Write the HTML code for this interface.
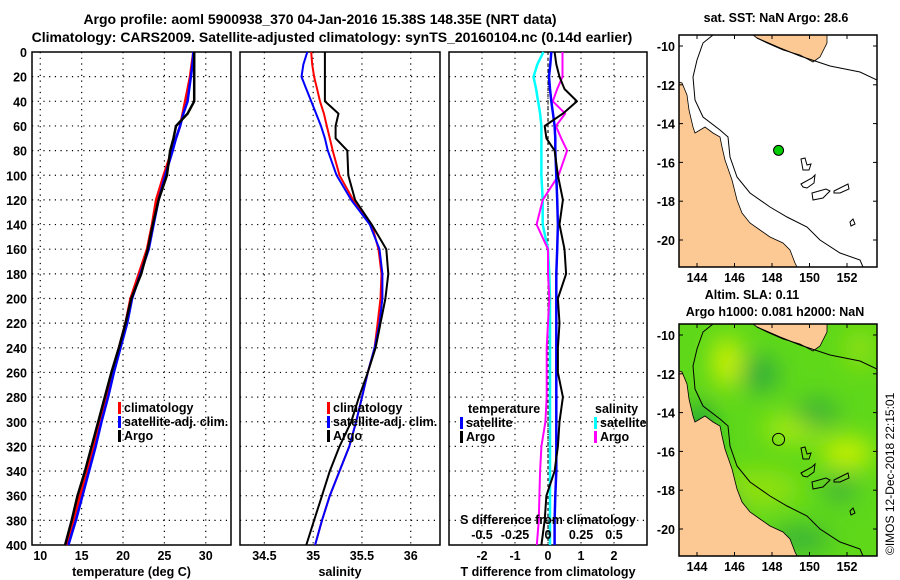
<!DOCTYPE html>
<html><head><meta charset="utf-8">
<style>
html,body{margin:0;padding:0;background:#fff;}
svg{display:block;font-family:"Liberation Sans",sans-serif;font-weight:bold;}
</style></head>
<body>
<svg id="chart" width="900" height="580" viewBox="0 0 900 580" xmlns="http://www.w3.org/2000/svg">
<defs>
<filter id="blur" x="-20%" y="-20%" width="140%" height="140%"><feGaussianBlur stdDeviation="12"/></filter>
<clipPath id="clip1"><rect x="679" y="35" width="198" height="232"/></clipPath>
<clipPath id="clip2"><rect x="679" y="324" width="198" height="233"/></clipPath>
</defs>
<text x="320" y="24" font-size="14" text-anchor="middle">Argo profile: aoml 5900938_370 04-Jan-2016 15.38S 148.35E (NRT data)</text>
<text x="332" y="42" font-size="14" text-anchor="middle">Climatology: CARS2009. Satellite-adjusted climatology: synTS_20160104.nc (0.14d earlier)</text>
<g id="panels"></g>
<g id="maps"></g>
</svg>
<script>
const depths=[0,10,20,30,40,50,60,70,80,100,120,140,160,180,200,220,240,260,280,300,320,340,360,380,400];
const tempClim=[28.5,28.3,28.1,27.8,27.5,27.2,26.9,26.4,25.9,24.9,24.0,23.5,22.9,21.9,20.9,20.3,19.5,18.7,18.0,17.1,16.5,15.7,14.8,14.0,13.2];
const tempSat=[28.5,28.4,28.2,28.0,27.8,27.3,26.9,26.4,26.0,25.1,24.3,23.7,23.1,22.1,21.1,20.5,19.7,18.9,18.2,17.4,16.7,15.9,15.1,14.3,13.4];
const tempArgo=[28.6,28.6,28.6,28.6,28.6,27.8,26.4,26.1,25.7,25.3,24.3,23.6,23.0,22.2,21.0,20.3,19.5,18.6,17.8,17.0,16.2,15.4,14.5,13.8,13.0];
const salClim=[34.98,34.99,35.01,35.04,35.07,35.11,35.14,35.17,35.20,35.27,35.41,35.60,35.67,35.70,35.69,35.66,35.63,35.56,35.50,35.44,35.37,35.27,35.17,35.09,35.02];
const salSat=[34.94,34.90,34.88,34.93,34.98,35.03,35.08,35.12,35.15,35.24,35.39,35.58,35.68,35.71,35.71,35.68,35.63,35.56,35.50,35.44,35.37,35.27,35.17,35.09,35.02];
const salArgo=[35.12,35.12,35.12,35.12,35.12,35.26,35.23,35.23,35.35,35.36,35.43,35.60,35.75,35.77,35.74,35.69,35.64,35.56,35.47,35.39,35.27,35.17,35.09,35.01,34.93];
const tDiffArgo=[0.2,0.25,0.35,0.5,0.88,0.45,-0.1,-0.05,0.2,0.3,0.45,0.35,0.5,0.55,0.3,0.35,0.3,0.3,0.45,0.35,0.3,0.2,-0.05,-0.1,-0.2];
const tDiffSat=[0.1,0.07,0.03,0.06,0.1,0.15,0.2,0.22,0.22,0.25,0.28,0.3,0.28,0.25,0.25,0.25,0.25,0.25,0.25,0.25,0.25,0.25,0.22,0.2,0.2];
const sDiffArgo=[0.11,0.11,0.11,0.07,0.036,0.13,0.06,0.1,0.145,0.08,-0.04,-0.086,0.0,0.0,0.01,0.0,-0.01,-0.01,-0.01,-0.02,-0.05,-0.06,-0.065,-0.07,-0.085];
const sDiffSat=[-0.035,-0.08,-0.11,-0.09,-0.075,-0.06,-0.05,-0.05,-0.05,-0.05,-0.04,-0.04,0.0,0.01,0.015,0.015,0.015,0.015,0.015,0.015,0.015,0.015,0.015,0.015,0.015];
const depthTicks=[0,20,40,60,80,100,120,140,160,180,200,220,240,260,280,300,320,340,360,380,400];
const tempTicks=[10,15,20,25,30];
const salTicks=[34.5,35,35.5,36];
const tdTicks=[-2,-1,0,1,2];
const sdTicks=[-0.5,-0.25,0,0.25,0.5];
const sdTickLabels=['-0.5','-0.25','0','0.25','0.5'];
const lonTicks=[144,146,148,150,152];
const latTicks=[-10,-12,-14,-16,-18,-20];
const argoLon=148.35, argoLat=-15.38;

const NS='http://www.w3.org/2000/svg';
function mk(tag,attrs,parent,text){const e=document.createElementNS(NS,tag);for(const k in attrs)e.setAttribute(k,attrs[k]);if(text!==undefined)e.textContent=text;parent.appendChild(e);return e;}
const panels=document.getElementById('panels');
const maps=document.getElementById('maps');
const yTop=52,yBot=545;
function yD(d){return yTop+(d/400)*(yBot-yTop);}
function makeX(x0,x1,v0,v1){return v=>x0+(v-v0)/(v1-v0)*(x1-x0);}
const px1=makeX(32,231,9,33.05);
const px2=makeX(240,440,34.25,36.3);
const px3=makeX(449,647,-3,3);
const px3s=v=>px3(v*4);

function panelFrame(name,x0,x1,xTicks,fx,labels,xTitle){
  const g=mk('g',{},panels);
  
  
  depthTicks.forEach(d=>{if(d>0&&d<400){const l=mk('line',{x1:x0,x2:x1,y1:yD(d),y2:yD(d),stroke:'#000','stroke-width':1.2,'stroke-dasharray':'1.2,4.5'},g);}});
  xTicks.forEach((v,i)=>{const x=fx(v);const l=mk('line',{x1:x,x2:x,y1:yTop,y2:yBot,stroke:'#000','stroke-width':1.2,'stroke-dasharray':'1.2,4.5'},g);
    const t=mk('text',{x:x,y:560,'font-size':12.5,'text-anchor':'middle'},g,labels[i]);});
  const r=mk('rect',{x:x0,y:yTop,width:x1-x0,height:yBot-yTop,fill:'none',stroke:'#000','stroke-width':1.5},g);
  
  const tt=mk('text',{x:(x0+x1)/2,y:576,'font-size':12.5,'text-anchor':'middle'},g,xTitle);
  
  return g;
}
function line(g,vals,fx,color,w,name){
  const pts=vals.map((v,i)=>fx(v).toFixed(1)+','+yD(depths[i]).toFixed(1)).join(' ');
  const p=mk('polyline',{points:pts,fill:'none',stroke:color,'stroke-width':w,'stroke-linejoin':'round'},g);
  
}
function legend(g,x,y,color,label){
  const r=mk('rect',{x:x,y:y-10,width:3,height:12,fill:color},g);
  
  const t=mk('text',{x:x+6,y:y,'font-size':12.5},g,label);
  
}
// panel 1
const g1=panelFrame('temperature-panel',32,231,tempTicks,px1,tempTicks.map(String),'temperature (deg C)');
depthTicks.forEach(d=>{const t=mk('text',{x:27,y:yD(d)+5,'font-size':12.5,'text-anchor':'end'},g1,String(d));});
line(g1,tempClim,px1,'#f00',2.5,'temperature-climatology-line');
line(g1,tempSat,px1,'#00f',2.5,'temperature-satellite-line');
line(g1,tempArgo,px1,'#000',2.5,'temperature-argo-line');
legend(g1,118,412,'#f00','climatology');legend(g1,118,426,'#00f','satellite-adj. clim.');legend(g1,118,440,'#000','Argo');
// panel 2
const g2=panelFrame('salinity-panel',240,440,salTicks,px2,['34.5','35','35.5','36'],'salinity');
line(g2,salClim,px2,'#f00',2,'salinity-climatology-line');
line(g2,salSat,px2,'#00f',2,'salinity-satellite-line');
line(g2,salArgo,px2,'#000',2,'salinity-argo-line');
legend(g2,327,412,'#f00','climatology');legend(g2,327,426,'#00f','satellite-adj. clim.');legend(g2,327,440,'#000','Argo');
// panel 3
const g3=panelFrame('difference-panel',449,647,tdTicks,px3,tdTicks.map(String),'T difference from climatology');
const zl=mk('line',{x1:px3(0),x2:px3(0),y1:yTop,y2:yBot,stroke:'#000','stroke-width':1,'stroke-dasharray':'3,3'},g3);

line(g3,sDiffSat,px3s,'#0ff',2.5,'salinity-diff-satellite-line');
line(g3,sDiffArgo,px3s,'#f0f',2,'salinity-diff-argo-line');
line(g3,tDiffSat,px3,'#00f',2.5,'temperature-diff-satellite-line');
line(g3,tDiffArgo,px3,'#000',2,'temperature-diff-argo-line');
[['temperature',468,413],['salinity',595,413]].forEach(a=>{const t=mk('text',{x:a[1],y:a[2],'font-size':12.5},g3,a[0]);});
legend(g3,460,427,'#00f','satellite');legend(g3,460,441,'#000','Argo');
legend(g3,594,427,'#0ff','satellite');legend(g3,594,441,'#f0f','Argo');
const st=mk('text',{x:548,y:524,'font-size':12.5,'text-anchor':'middle'},g3,'S difference from climatology');

sdTicks.forEach((v,i)=>{const t=mk('text',{x:px3s(v),y:539,'font-size':12.5,'text-anchor':'middle'},g3,sdTickLabels[i]);});

// maps
const mLon=v=>697+(v-144)*18.75;
const landAus="M679,82 L682,83 L687,95 L689,110 L693,127 L695,133 L700,130 L705,127 L713,133 L720,137 L722,147 L725,160 L732,180 L737,200 L742,213 L750,223 L760,230 L770,237 L783,243 L790,250 L795,263 L797,267 L679,267 Z";
const landPNG="M753,35 L827,35 L827,43 L820,57 L813,62 L800,55 L783,50 L767,43 L757,38 Z";
const contours=["M713,35 L703,43 L697,60 L693,77 L695,100 L703,117 L720,130 L728,137 L730,157 L737,177 L750,193 L770,207 L787,217 L807,227 L820,240 L840,253 L860,260 L863,267",
"M757,38 L780,48 L800,56 L830,66 L860,72 L877,80",
"M801,159 L805,158 L807,165 L811,164 L809,170 L803,170 Z",
"M801,184 L812,178 L815,175 L814,183 L807,188 L803,187 Z",
"M812,193 L826,189 L830,191 L823,198 L813,200 Z",
"M834,191 L848,184 L849,189 L840,193 L834,193 Z",
"M850,222 L853,219 L855,224 L851,226 Z"];
function drawMap(off,clipId,name,title1,title2,heat){
  const g=mk('g',{},maps);
  
  const inner=mk('g',{'clip-path':'url(#'+clipId+')'},g);
  const tg=mk('g',{transform:'translate(0,'+off+')'},inner);
  if(heat){
    mk('rect',{x:679,y:35,width:198,height:232,fill:'#5fd81a'},tg);
    const hb=mk('g',{filter:'url(#blur)'},tg);
    [[727,73,14,25,'#d4f200'],[847,164,26,16,'#c8f000'],[793,140,30,14,'#a8ea08'],[760,85,18,18,'#2faa3c'],[817,124,22,14,'#38b038'],[840,200,16,14,'#3cb23a'],[760,200,40,20,'#8ee010'],[700,170,14,60,'#199c3a'],[860,60,15,20,'#8ee010'],[800,250,30,12,'#36ae3a'],[720,230,20,30,'#2aa83c']].forEach(b=>{mk('ellipse',{cx:b[0],cy:b[1],rx:b[2],ry:b[3],fill:b[4]},hb);});
  }
  const la=mk('path',{d:landAus,fill:'#fcc994',stroke:'#000','stroke-width':0.8},tg);
  
  const lp=mk('path',{d:landPNG,fill:'#fcc994',stroke:'#000','stroke-width':0.8},tg);
  
  contours.forEach(c=>{const p=mk('path',{d:c,fill:'none',stroke:'#000','stroke-width':1},tg);});
  const cx=mLon(argoLon), cy=46+(-10-argoLat)*19.4;
  const dot=mk('circle',{cx:cx,cy:cy,r:heat?6:5,fill:heat?'none':'#00cc00',stroke:'#000','stroke-width':1},tg);
  
  const fr=mk('rect',{x:679,y:35+off,width:198,height:232,fill:'none',stroke:'#000','stroke-width':1.5},g);
  
  lonTicks.forEach(v=>{const x=mLon(v);
    mk('line',{x1:x,x2:x,y1:35+off,y2:39+off,stroke:'#000'},g);mk('line',{x1:x,x2:x,y1:263+off,y2:267+off,stroke:'#000'},g);
    const t=mk('text',{x:x,y:282+off,'font-size':12.5,'text-anchor':'middle'},g,String(v));});
  latTicks.forEach(v=>{const y=46+(-10-v)*19.4+off;
    mk('line',{x1:679,x2:683,y1:y,y2:y,stroke:'#000'},g);mk('line',{x1:873,x2:877,y1:y,y2:y,stroke:'#000'},g);
    const t=mk('text',{x:675,y:y+5,'font-size':12.5,'text-anchor':'end'},g,String(v));});
  const t1=mk('text',{x:title2?752:776,y:title2?299:22,'font-size':12.5,'text-anchor':'middle'},g,title1);
  
  if(title2){const t2=mk('text',{x:775,y:316,'font-size':12.5,'text-anchor':'middle'},g,title2);}
}
drawMap(0,'clip1','sst-map','sat. SST: NaN Argo: 28.6',null,false);
drawMap(289,'clip2','sla-map','Altim. SLA: 0.11','Argo h1000: 0.081 h2000: NaN',true);
const cr=mk('text',{x:0,y:0,'font-size':12,transform:'translate(894,555) rotate(-90)','font-weight':'normal'},maps,'©IMOS 12-Dec-2018 22:15:01');


</script>
</body></html>
